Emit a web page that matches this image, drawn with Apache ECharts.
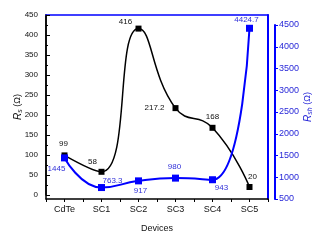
<!DOCTYPE html>
<html><head><meta charset="utf-8">
<script src="https://cdn.jsdelivr.net/npm/echarts@6/dist/echarts.min.js"></script>
<style>html,body{margin:0;padding:0;background:#fff}#c{width:322px;height:242px}</style>
</head><body><div id="c"></div>
<script>
const categories = ['CdTe', 'SC1', 'SC2', 'SC3', 'SC4', 'SC5'];
const rsValues = [99, 58, 416, 217.2, 168, 20];
const rshValues = [1445, 763.3, 917, 980, 943, 4424.7];
const rsTicks = {min: 0, max: 450, interval: 50};
const rshTicks = {min: 500, max: 4500, interval: 500};

// label placement (styling only)
const rsLabelOffsets = [[-1, -12], [-9, -10], [-13, -7], [-21, 0], [0, -11], [3, -10]];
const rshLabelOffsets = [[-8, 11], [11, -7], [2, 10], [-1, -11], [9, 8], [-3, -8]];

const FONT = 'Liberation Sans, Arial, sans-serif';
const BLUE_TXT = '#2828d8';
const chart = echarts.init(document.getElementById('c'));
const nameRich = (c) => ({
  i: {fontStyle: 'italic', fontSize: 10, fontFamily: FONT, color: c},
  sub: {fontStyle: 'italic', fontSize: 7, fontFamily: FONT, padding: [5, 0, 0, 0], color: c},
  n: {fontSize: 9, fontFamily: FONT, color: c}
});
chart.setOption({
  animation: false,
  textStyle: {fontFamily: FONT},
  grid: [
    {left: 46, right: 47, top: 15, bottom: 43},
    {left: 46, right: 47, top: 15, bottom: 47},
    {left: 46, right: 47, top: 25, bottom: 43}
  ],
  xAxis: [
    {gridIndex: 0, type: 'value', min: -0.5, max: categories.length - 0.5, interval: 0.5,
     axisLine: {onZero: false, lineStyle: {color: '#000', width: 1.5}},
     axisTick: {show: true, inside: false, length: 3, lineStyle: {color: '#000'}},
     axisLabel: {fontSize: 9, color: '#111', margin: 6, fontFamily: FONT,
       formatter: v => Number.isInteger(v) && v >= 0 && v < categories.length ? categories[v] : ''},
     splitLine: {show: false},
     name: 'Devices', nameLocation: 'middle', nameGap: 25,
     nameTextStyle: {fontSize: 9, color: '#111', fontFamily: FONT}},
    {gridIndex: 1, type: 'value', show: false, min: 0, max: 1},
    {gridIndex: 2, type: 'value', show: false, min: 0, max: 1},
    {gridIndex: 0, type: 'value', position: 'top', min: -0.5, max: categories.length - 0.5,
     axisLine: {show: true, onZero: false, lineStyle: {color: '#0000ff', width: 1.5}},
     axisTick: {show: false}, axisLabel: {show: false}, splitLine: {show: false}}
  ],
  yAxis: [
    {gridIndex: 0, type: 'value', min: -10, max: 450,
     axisLine: {show: true, onZero: false, lineStyle: {color: '#000', width: 1.5}},
     axisTick: {show: false}, axisLabel: {show: false}, splitLine: {show: false},
     name: '{i|R}{sub|s}{n| (Ω)}', nameLocation: 'middle', nameGap: 22,
     nameTextStyle: {color: '#111', rich: nameRich('#111')}},
    {gridIndex: 0, type: 'value', position: 'right', min: 500, max: 4730,
     axisLine: {show: true, onZero: false, lineStyle: {color: '#0000ff', width: 2}},
     axisTick: {show: false}, axisLabel: {show: false}, splitLine: {show: false},
     name: '{i|R}{sub|sh}{n| (Ω)}', nameLocation: 'middle', nameGap: 34, nameRotate: 90,
     nameTextStyle: {color: BLUE_TXT, rich: nameRich(BLUE_TXT)}},
    {gridIndex: 1, type: 'value', min: rsTicks.min, max: rsTicks.max, interval: rsTicks.interval,
     axisLine: {show: true, onZero: false, lineStyle: {color: '#000', width: 1.5}},
     axisTick: {show: true, inside: true, length: 4, lineStyle: {color: '#000'}},
     minorTick: {show: true, splitNumber: 2, length: 2, lineStyle: {color: '#000'}},
     axisLabel: {fontSize: 8, color: '#111', margin: 8, fontFamily: FONT, formatter: v => String(v)},
     splitLine: {show: false}},
    {gridIndex: 2, type: 'value', position: 'right', min: rshTicks.min, max: rshTicks.max, interval: rshTicks.interval,
     axisLine: {show: true, onZero: false, lineStyle: {color: '#0000ff', width: 2}},
     axisTick: {show: true, inside: false, length: 3, lineStyle: {color: '#0000ff'}},
     axisLabel: {fontSize: 9, color: BLUE_TXT, margin: 4, fontFamily: FONT, formatter: v => String(v)},
     splitLine: {show: false}}
  ],
  series: [
    {type: 'line', xAxisIndex: 0, yAxisIndex: 0, smooth: 0.5,
     symbol: 'rect', symbolSize: 6,
     itemStyle: {color: '#000'}, lineStyle: {color: '#000', width: 1.5},
     label: {show: true, position: 'inside', fontSize: 8, color: '#111', fontFamily: FONT,
       formatter: p => String(p.value[1])},
     data: rsValues.map((v, i) => ({value: [i, v], label: {offset: rsLabelOffsets[i]}}))},
    {type: 'line', xAxisIndex: 0, yAxisIndex: 1, smooth: 0.5,
     symbol: 'rect', symbolSize: 7,
     itemStyle: {color: '#0000ff'}, lineStyle: {color: '#0000ff', width: 2},
     label: {show: true, position: 'inside', fontSize: 8, color: '#3030d8', fontFamily: FONT,
       formatter: p => String(p.value[1])},
     data: rshValues.map((v, i) => ({value: [i, v], label: {offset: rshLabelOffsets[i]}}))}
  ]
});
</script></body></html>
